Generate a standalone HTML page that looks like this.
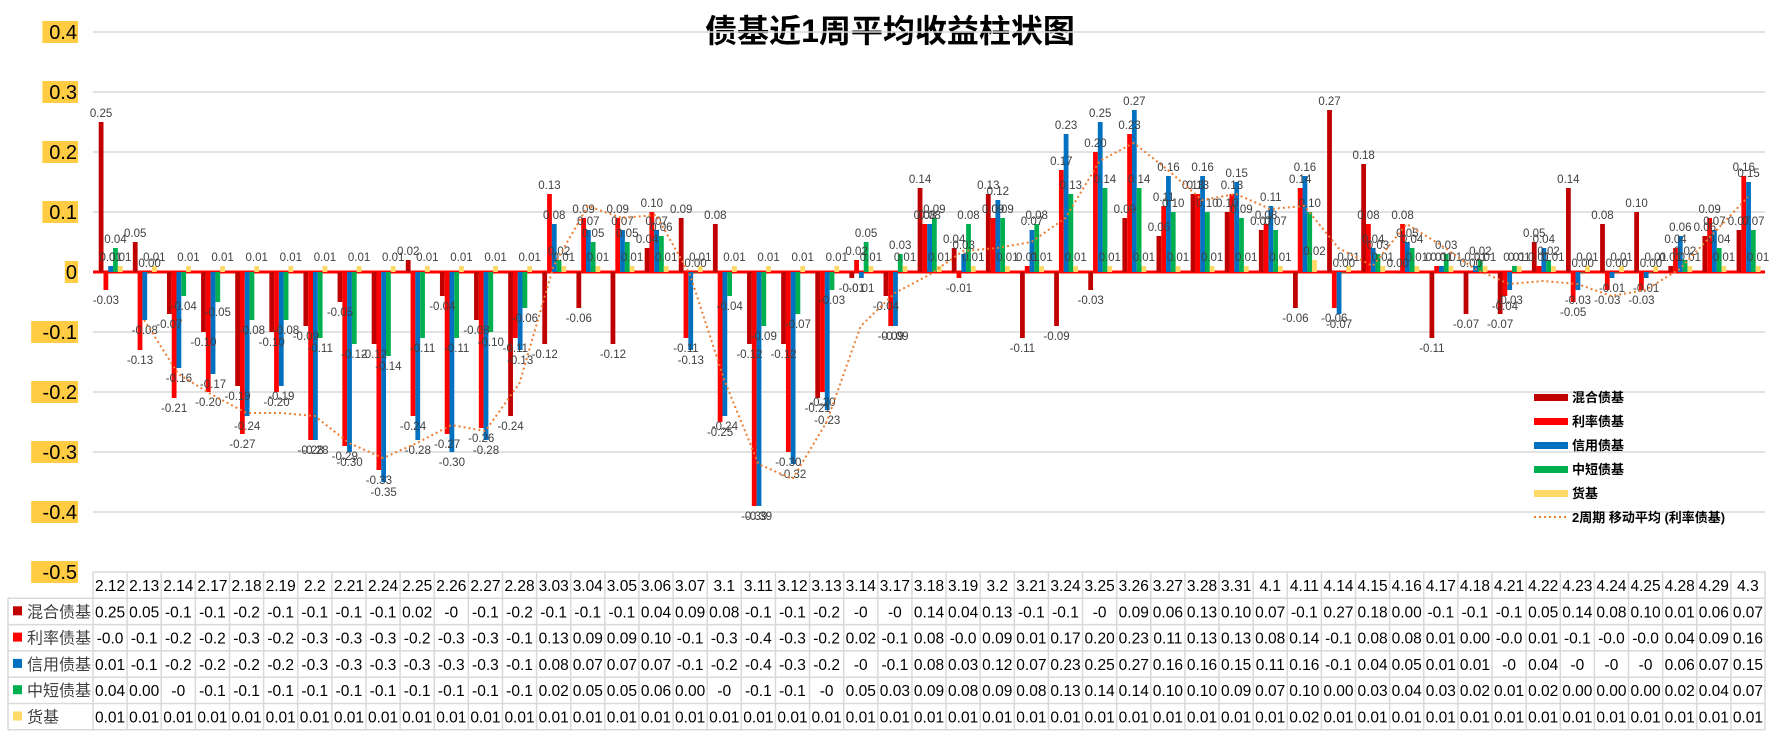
<!DOCTYPE html>
<html><head><meta charset="utf-8">
<style>
body{margin:0;background:#fff;}
svg{display:block;font-family:"Liberation Sans","Noto Sans CJK SC",sans-serif;}
</style></head>
<body>
<svg id="chart" width="1782" height="736" viewBox="0 0 1782 736" xmlns="http://www.w3.org/2000/svg">
<rect width="1782" height="736" fill="#fff"/>
<text x="890" y="42" text-anchor="middle" font-size="32" font-weight="bold" fill="#000" font-family="'Liberation Sans','Noto Sans CJK SC',sans-serif">债基近1周平均收益柱状图</text>
<g id="grid"></g><g id="bars"></g><g id="labels"></g><g id="ma"></g><g id="yaxis"></g><g id="table"></g><g id="legend"></g>
</svg>
<script>
const categories=["2.12","2.13","2.14","2.17","2.18","2.19","2.2","2.21","2.24","2.25","2.26","2.27","2.28","3.03","3.04","3.05","3.06","3.07","3.1","3.11","3.12","3.13","3.14","3.17","3.18","3.19","3.2","3.21","3.24","3.25","3.26","3.27","3.28","3.31","4.1","4.11","4.14","4.15","4.16","4.17","4.18","4.21","4.22","4.23","4.24","4.25","4.28","4.29","4.3"];
const hunhe=[0.25,0.05,-0.07,-0.10,-0.19,-0.10,-0.09,-0.05,-0.12,0.02,-0.04,-0.08,-0.24,-0.12,-0.06,-0.12,0.04,0.09,0.08,-0.12,-0.12,-0.21,-0.01,-0.04,0.14,0.04,0.13,-0.11,-0.09,-0.03,0.09,0.06,0.13,0.10,0.07,-0.06,0.27,0.18,0.00,-0.11,-0.07,-0.07,0.05,0.14,0.08,0.10,0.01,0.06,0.07];
const lilv=[-0.03,-0.13,-0.21,-0.20,-0.27,-0.20,-0.28,-0.29,-0.33,-0.24,-0.27,-0.26,-0.11,0.13,0.09,0.09,0.10,-0.11,-0.25,-0.39,-0.30,-0.20,0.02,-0.09,0.08,-0.01,0.09,0.01,0.17,0.20,0.23,0.11,0.13,0.13,0.08,0.14,-0.06,0.08,0.08,0.01,0.00,-0.04,0.01,-0.05,-0.03,-0.03,0.04,0.09,0.16];
const xinyong=[0.01,-0.08,-0.16,-0.17,-0.24,-0.19,-0.28,-0.30,-0.35,-0.28,-0.30,-0.28,-0.13,0.08,0.07,0.07,0.07,-0.13,-0.24,-0.39,-0.32,-0.23,-0.01,-0.09,0.08,0.03,0.12,0.07,0.23,0.25,0.27,0.16,0.16,0.15,0.11,0.16,-0.07,0.04,0.05,0.01,0.01,-0.03,0.04,-0.03,-0.01,-0.01,0.06,0.07,0.15];
const zhongduan=[0.04,0.00,-0.04,-0.05,-0.08,-0.08,-0.11,-0.12,-0.14,-0.11,-0.11,-0.10,-0.06,0.02,0.05,0.05,0.06,0.00,-0.04,-0.09,-0.07,-0.03,0.05,0.03,0.09,0.08,0.09,0.08,0.13,0.14,0.14,0.10,0.10,0.09,0.07,0.10,0.00,0.03,0.04,0.03,0.02,0.01,0.02,0.00,0.00,0.00,0.02,0.04,0.07];
const huoji=[0.01,0.01,0.01,0.01,0.01,0.01,0.01,0.01,0.01,0.01,0.01,0.01,0.01,0.01,0.01,0.01,0.01,0.01,0.01,0.01,0.01,0.01,0.01,0.01,0.01,0.01,0.01,0.01,0.01,0.01,0.01,0.01,0.01,0.01,0.01,0.02,0.01,0.01,0.01,0.01,0.01,0.01,0.01,0.01,0.01,0.01,0.01,0.01,0.01];
const yTicks=[0.4,0.3,0.2,0.1,0,-0.1,-0.2,-0.3,-0.4,-0.5];
const seriesNames=["混合债基","利率债基","信用债基","中短债基","货基"];

const NS="http://www.w3.org/2000/svg";
const X0=93,X1=1765,Y0=272,PX=600;
const step=(X1-X0)/categories.length;
const xc=i=>X0+step*(i+0.5);
const y=v=>Y0-v*PX;
const colors=["#C00000","#FF0000","#0070C0","#00B050","#FFD966"];
const series=[hunhe,lilv,xinyong,zhongduan,huoji];
const seriesKeys=["hunhe","lilv","xinyong","zhongduan","huoji"];
function mk(tag,attrs,parent){const e=document.createElementNS(NS,tag);for(const k in attrs)e.setAttribute(k,attrs[k]);parent.appendChild(e);return e;}
const G=id=>document.getElementById(id);

// grid & y axis
yTicks.forEach(t=>{
  if(t>-0.45&&t!==0){const l=mk('line',{x1:X0,x2:X1,y1:y(t),y2:y(t),stroke:'#D9D9D9','stroke-width':1.5},G('grid'));
  
  }
  const lab=(t===0?"0":t.toFixed(1));
  const w=lab.length*11.2+2;
  const r=mk('rect',{x:78-w,y:y(t)-11,width:w,height:22,fill:'#FFCC44'},G('yaxis'));
  
  
  const tx=mk('text',{x:77,y:y(t)+7,'text-anchor':'end','font-size':20,fill:'#000'},G('yaxis'));
  tx.textContent=lab;
  
  
});

// bars
const bw=step*0.14;
series.forEach((s,j)=>{
  s.forEach((v,i)=>{
    const bx=xc(i)-bw*2.5+bw*j+0.6;
    const r=mk('rect',{x:bx,y:Math.min(y(v),Y0),width:bw,height:Math.max(Math.abs(y(v)-Y0),0.5),fill:colors[j]},G('bars'));
    
    
    let lab=v.toFixed(2); if(lab==="-0.00")lab="-0";
    const t=mk('text',{x:bx+bw/2,y:v>=0?y(v)-5:y(v)+14,'text-anchor':'middle','font-size':11.5,fill:'#404040'},G('labels'));
    t.textContent=lab;
    
    
  });
});
// zero axis
const za=mk('line',{x1:X0,x2:X1,y1:Y0,y2:Y0,stroke:'#FF0000','stroke-width':3},G('grid'));



// moving average
let pts=[];
for(let i=1;i<lilv.length;i++){pts.push(xc(i)+','+y((lilv[i]+lilv[i-1])/2));}
const ma=mk('polyline',{points:pts.join(' '),fill:'none',stroke:'#ED7D31','stroke-width':2,'stroke-dasharray':'2 3'},G('ma'));



// table
const TB=G('table');const tblTop=572,rh=26.3;
function hl(x1,x2,yy){const l=mk('line',{x1:x1,x2:x2,y1:yy,y2:yy,stroke:'#D9D9D9','stroke-width':1.5},TB);}
function vl(xx,y1,y2){const l=mk('line',{x1:xx,x2:xx,y1:y1,y2:y2,stroke:'#D9D9D9','stroke-width':1.5},TB);}
hl(X0,X1,tblTop);
for(let r=1;r<=6;r++)hl(8,X1,tblTop+rh*r);
vl(8,tblTop+rh,tblTop+rh*6);
for(let i=0;i<=categories.length;i++)vl(X0+step*i,tblTop,tblTop+rh*6);
categories.forEach((c,i)=>{const t=mk('text',{x:xc(i),y:tblTop+19,'text-anchor':'middle','font-size':15.5,fill:'#000'},TB);t.textContent=c;
  
  });
series.forEach((s,j)=>{
  const ry=tblTop+rh*(j+1);
  const sq=mk('rect',{x:13,y:ry+8,width:9,height:9,fill:colors[j]},TB);
  
  
  const n=mk('text',{x:27,y:ry+19,'font-size':16,fill:'#404040'},TB);n.textContent=seriesNames[j];
  
  
  s.forEach((v,i)=>{
    let lab;
    if(v>=0)lab=v.toFixed(2);else{lab=v.toFixed(1);if(lab==="-0.0"&&j!==1)lab="-0";}
    const t=mk('text',{x:xc(i),y:ry+19,'text-anchor':'middle','font-size':15.5,fill:'#000'},TB);t.textContent=lab;
    
    
  });
});

// legend
const LG=G('legend');
const legNames=seriesNames.concat(["2周期 移动平均 (利率债基)"]);
legNames.forEach((nm,k)=>{
  const ly=397+k*24;
  if(k<5){const r=mk('rect',{x:1534,y:ly-3,width:34,height:7,fill:colors[k]},LG);
    
    }
  else{const l=mk('line',{x1:1534,x2:1568,y1:ly,y2:ly,stroke:'#ED7D31','stroke-width':2,'stroke-dasharray':'2 3'},LG);
    
    }
  const t=mk('text',{x:1572,y:ly+5,'font-size':13,'font-weight':'bold',fill:'#000'},LG);t.textContent=nm;
  
  
});
</script>
</body></html>
